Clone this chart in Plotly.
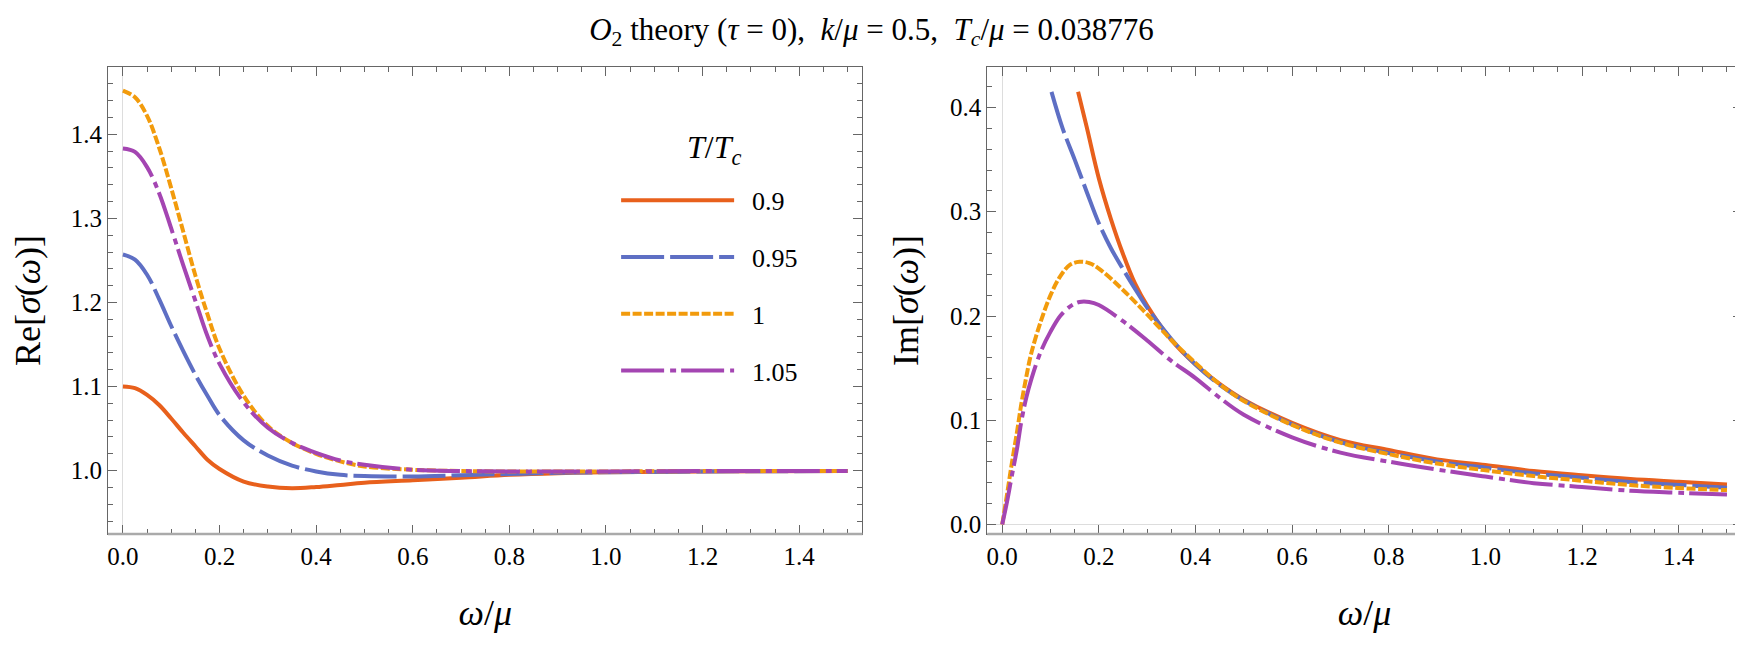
import plotly.graph_objs as go

# temperatures T/Tc
temps = ['0.9', '0.95', '1', '1.05']
colors = ['#E8601C', '#5E6FC4', '#F29B0C', '#A445B2']
dashes = ['solid', '43px,6px', '9px,2.5px', '43px,6px,6px,5px']

# Re[sigma] -- common omega grid
w_re = [0, 0.025, 0.05, 0.075, 0.1, 0.125, 0.15, 0.175, 0.2, 0.25, 0.3, 0.35, 0.4,
        0.45, 0.5, 0.6, 0.7, 0.8, 0.9, 1.0, 1.2, 1.5]
re_09 = [1.100, 1.098, 1.090, 1.078, 1.062, 1.045, 1.029, 1.013, 1.002, 0.987, 0.981, 0.979,
         0.9805, 0.983, 0.9855, 0.9885, 0.9915, 0.995, 0.997, 0.998, 0.999, 0.9995]
re_095 = [1.257, 1.251, 1.233, 1.204, 1.172, 1.142, 1.114, 1.089, 1.066, 1.036, 1.018, 1.006,
          0.999, 0.995, 0.9935, 0.993, 0.9945, 0.996, 0.9975, 0.998, 0.999, 0.9995]
re_100 = [1.452, 1.444, 1.422, 1.384, 1.336, 1.284, 1.232, 1.186, 1.145, 1.089, 1.053, 1.033,
          1.020, 1.011, 1.005, 1.001, 0.9995, 0.999, 0.999, 0.999, 0.9995, 0.9995]
re_105 = [1.383, 1.379, 1.361, 1.330, 1.288, 1.244, 1.202, 1.160, 1.127, 1.081, 1.051, 1.033,
          1.021, 1.012, 1.007, 1.001, 0.9995, 0.999, 0.999, 0.999, 0.9995, 0.9995]

# Im[sigma]
w_im_09 = [0.157, 0.175, 0.2, 0.225, 0.25, 0.275, 0.3, 0.35, 0.4, 0.45, 0.5, 0.6, 0.7, 0.8,
           0.9, 1.0, 1.1, 1.2, 1.3, 1.4, 1.5]
im_09 = [0.415, 0.381, 0.332, 0.293, 0.2595, 0.231, 0.210, 0.177, 0.1535, 0.135, 0.1198,
         0.0975, 0.081, 0.0715, 0.0625, 0.057, 0.0513, 0.0472, 0.0436, 0.041, 0.0385]
w_im_095 = [0.102, 0.125, 0.15, 0.175, 0.2, 0.225, 0.25, 0.275, 0.3, 0.35, 0.4, 0.45, 0.5,
            0.6, 0.7, 0.8, 0.9, 1.0, 1.1, 1.2, 1.3, 1.4, 1.5]
im_095 = [0.415, 0.380, 0.350, 0.319, 0.289, 0.265, 0.245, 0.226, 0.208, 0.178, 0.1535, 0.134,
          0.119, 0.096, 0.079, 0.0685, 0.0605, 0.0545, 0.049, 0.0448, 0.0408, 0.038, 0.0353]
w_im = [0, 0.01, 0.02, 0.03, 0.04, 0.05, 0.06, 0.08, 0.1, 0.12, 0.14, 0.16, 0.18, 0.2, 0.25,
        0.3, 0.35, 0.4, 0.45, 0.5, 0.6, 0.7, 0.8, 0.9, 1.0, 1.1, 1.2, 1.3, 1.4, 1.5]
im_100 = [0, 0.029, 0.059, 0.087, 0.117, 0.142, 0.164, 0.195, 0.220, 0.238, 0.249, 0.252,
          0.2508, 0.2455, 0.225, 0.2015, 0.177, 0.155, 0.1345, 0.1185, 0.0955, 0.0785, 0.0675,
          0.0585, 0.052, 0.0465, 0.042, 0.0378, 0.035, 0.033]
im_105 = [0, 0.022, 0.047, 0.071, 0.100, 0.122, 0.139, 0.166, 0.185, 0.200, 0.209, 0.2135,
          0.2135, 0.2105, 0.195, 0.1765, 0.157, 0.1405, 0.1216, 0.1053, 0.0836, 0.069, 0.0603,
          0.0527, 0.046, 0.0397, 0.036, 0.0324, 0.0305, 0.0288]

re_x = [w_re, w_re, w_re, w_re]
re_y = [re_09, re_095, re_100, re_105]
im_x = [w_im_09, w_im_095, w_im, w_im]
im_y = [im_09, im_095, im_100, im_105]

FONT = 'Liberation Serif, Times New Roman, serif'
# page body has an 8px margin, so the figure is 16px smaller than the window
W, H = 1735, 632

fig = go.Figure()
for i, t in enumerate(temps):
    # en space keeps the label a little away from the line sample
    fig.add_trace(go.Scatter(x=re_x[i], y=re_y[i], mode='lines', name='\u2002' + t,
                             legendgroup=t,
                             line=dict(color=colors[i], width=4, dash=dashes[i], shape='spline'),
                             xaxis='x', yaxis='y'))
for i, t in enumerate(temps):
    fig.add_trace(go.Scatter(x=im_x[i], y=im_y[i], mode='lines', name=t, legendgroup=t,
                             showlegend=False,
                             line=dict(color=colors[i], width=4, dash=dashes[i], shape='spline'),
                             xaxis='x2', yaxis='y2'))

ax_common = dict(showline=True, mirror='allticks', linecolor='#666666', linewidth=1,
                 ticks='inside', ticklen=9, tickwidth=1, tickcolor='#666666',
                 showgrid=False, tickfont=dict(family=FONT, size=25, color='black'),
                 automargin=False)

xax = dict(ax_common, range=[-0.031, 1.531], dtick=0.2, tick0=0, tickformat='.1f',
           zeroline=True, zerolinecolor='#dddddd', zerolinewidth=1,
           minor=dict(dtick=0.05, ticks='inside', ticklen=5, tickcolor='#666666'),
           title=dict(text='<i>ω</i>/<i>μ</i>', font=dict(family=FONT, size=36), standoff=30))

ydom = [0.1677, 0.9066]

fig.update_layout(
    width=W, height=H,
    margin=dict(l=0, r=0, t=0, b=0),
    paper_bgcolor='white', plot_bgcolor='white',
    font=dict(family=FONT, color='black'),
    title=dict(text='<i>O</i><sub>2</sub> theory (<i>τ</i> = 0),  <i>k</i>/<i>μ</i> = 0.5,  '
                    '<i>T<sub>c</sub></i>/<i>μ</i> = 0.038776',
               x=0.4977, xanchor='center', y=0.9668, yanchor='middle',
               font=dict(family=FONT, size=31)),
    xaxis=dict(xax, domain=[0.0576, 0.4925], anchor='y'),
    yaxis=dict(ax_common, domain=ydom, anchor='x', range=[0.9246, 1.48],
               dtick=0.1, tick0=0, tickformat='.1f', zeroline=False,
               minor=dict(dtick=0.02, ticks='inside', ticklen=5, tickcolor='#666666'),
               title=dict(text='Re[<i>σ</i>(<i>ω</i>)]', font=dict(family=FONT, size=36),
                          standoff=20)),
    xaxis2=dict(xax, domain=[0.5644, 0.9994], anchor='y2'),
    yaxis2=dict(ax_common, domain=ydom, anchor='x2', range=[-0.0091, 0.4388],
                dtick=0.1, tick0=0, tickformat='.1f',
                zeroline=True, zerolinecolor='#dddddd', zerolinewidth=1,
                minor=dict(dtick=0.02, ticks='inside', ticklen=5, tickcolor='#666666'),
                title=dict(text='Im[<i>σ</i>(<i>ω</i>)]', font=dict(family=FONT, size=36),
                           standoff=20)),
    legend=dict(x=0.3505, y=0.733, xanchor='left', yanchor='top',
                bgcolor='rgba(0,0,0,0)', itemwidth=113, tracegroupgap=20,
                font=dict(family=FONT, size=26)),
    annotations=[dict(text='<i>T</i>/<i>T<sub>c</sub></i>', xref='paper', yref='paper',
                      x=(714 - 8) / W, y=1 - (150 - 8) / H, xanchor='center', yanchor='middle',
                      showarrow=False, font=dict(family=FONT, size=32))],
    shapes=[
        dict(type='line', xref='x domain', yref='y domain', x0=0, x1=1, y0=0, y1=0,
             line=dict(color='#aaaaaa', width=2.5)),
        dict(type='line', xref='x2 domain', yref='y2 domain', x0=0, x1=1, y0=0, y1=0,
             line=dict(color='#aaaaaa', width=2.5)),
    ],
)

fig.write_html('out.html')
